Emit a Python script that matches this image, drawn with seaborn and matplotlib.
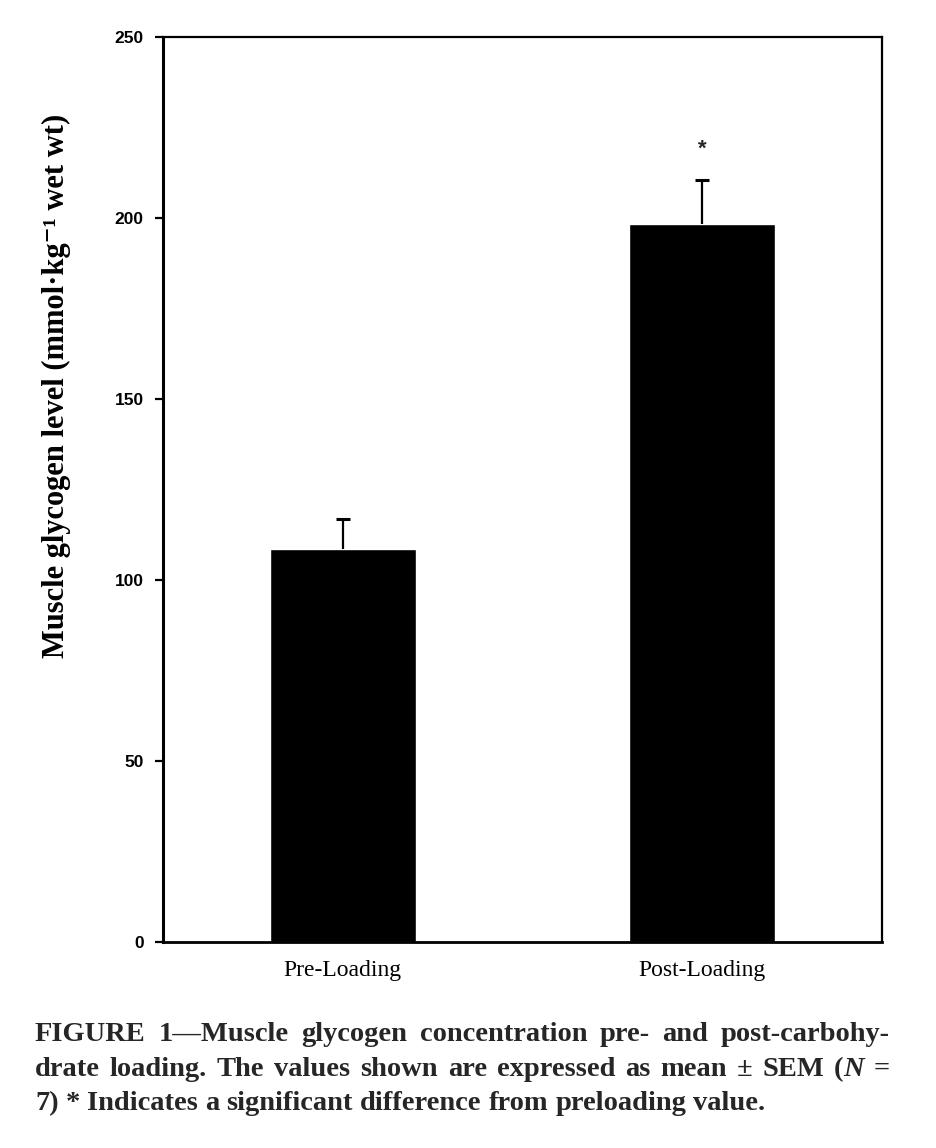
import matplotlib
matplotlib.use("Agg")
import matplotlib.pyplot as plt
import seaborn as sns
import pandas as pd

conditions = ["Pre-Loading", "Post-Loading"]
glycogen_mean = [108.6, 198.3]
glycogen_sem = [8.3, 12.2]
sig_marks = ["", "*"]
y_ticks = [0, 50, 100, 150, 200, 250]

caption_lines = [
    "FIGURE 1\u2014Muscle glycogen concentration pre- and post-carbohy-",
    "drate loading. The values shown are expressed as mean \u00b1 SEM (|N| =",
    "7) * Indicates a significant difference from preloading value.",
]

sns.set_theme(style="white")
plt.rcParams["font.family"] = ["Liberation Serif", "DejaVu Serif"]

df = pd.DataFrame({"condition": conditions, "glycogen": glycogen_mean})

W, H = 936, 1148
fig = plt.figure(figsize=(W / 100, H / 100), dpi=100)
ax = fig.add_axes([163 / W, 206 / H, 719 / W, 905 / H])

sns.barplot(data=df, x="condition", y="glycogen", color="black",
            saturation=1, width=0.405, errorbar=None, ax=ax)

# only the upper half of the SEM bar is drawn
eb = ax.errorbar(x=range(len(conditions)), y=glycogen_mean,
                 yerr=[[0] * len(glycogen_sem), glycogen_sem],
                 fmt="none", ecolor="black", elinewidth=1.6,
                 capsize=4.7, capthick=2.2)
eb[1][0].remove()

for i, mark in enumerate(sig_marks):
    if mark:
        ax.text(i, glycogen_mean[i] + glycogen_sem[i] + 8.5, mark,
                ha="center", va="center", fontsize=16, fontweight="bold",
                family="Liberation Sans")

ax.set_xlim(-0.5, 1.5)
ax.set_ylim(0, 250)
ax.set_yticks(y_ticks)
ax.set_yticklabels([str(t) for t in y_ticks], family="Liberation Sans",
                   fontweight="bold", fontsize=12.5)
ax.tick_params(axis="y", left=True, direction="out", length=6, width=1.6,
               pad=8, colors="black")
ax.tick_params(axis="x", bottom=False, length=0, pad=13, labelsize=17,
               colors="black")

ax.set_xlabel("")
ax.set_ylabel("Muscle glycogen level (mmol\u00b7kg\u207b\u00b9 wet wt)",
              fontsize=22, fontweight="bold", color="black")
ax.yaxis.set_label_coords(-0.128, 0.614)

for side in ["top", "right", "bottom", "left"]:
    ax.spines[side].set_color("black")
    ax.spines[side].set_linewidth(1.6)
ax.spines["left"].set_linewidth(2.2)
ax.spines["bottom"].set_linewidth(2.0)

# caption, justified like the printed figure legend
cap_size = 20.5
x0, x1 = 35, 890
baselines = [1041, 1076, 1110]
renderer = fig.canvas.get_renderer()
for li, line in enumerate(caption_lines):
    words = line.split(" ")
    items = []
    for w in words:
        segs = []
        for k, part in enumerate(w.split("|")):
            if part:
                segs.append(fig.text(0, 1 - baselines[li] / H, part,
                                     fontsize=cap_size, fontweight="bold",
                                     fontstyle="italic" if k % 2 else "normal",
                                     ha="left", va="baseline"))
        items.append(segs)
    widths = [[t.get_window_extent(renderer).width for t in segs]
              for segs in items]
    total = sum(sum(ws) for ws in widths)
    if li < len(caption_lines) - 1:
        gap = (x1 - x0 - total) / (len(items) - 1)
    else:
        gap = cap_size * 0.25 * 100 / 72
    x = x0
    for segs, ws in zip(items, widths):
        for t, w in zip(segs, ws):
            t.set_x(x / W)
            x += w
        x += gap

fig.savefig("out.png", dpi=100)
